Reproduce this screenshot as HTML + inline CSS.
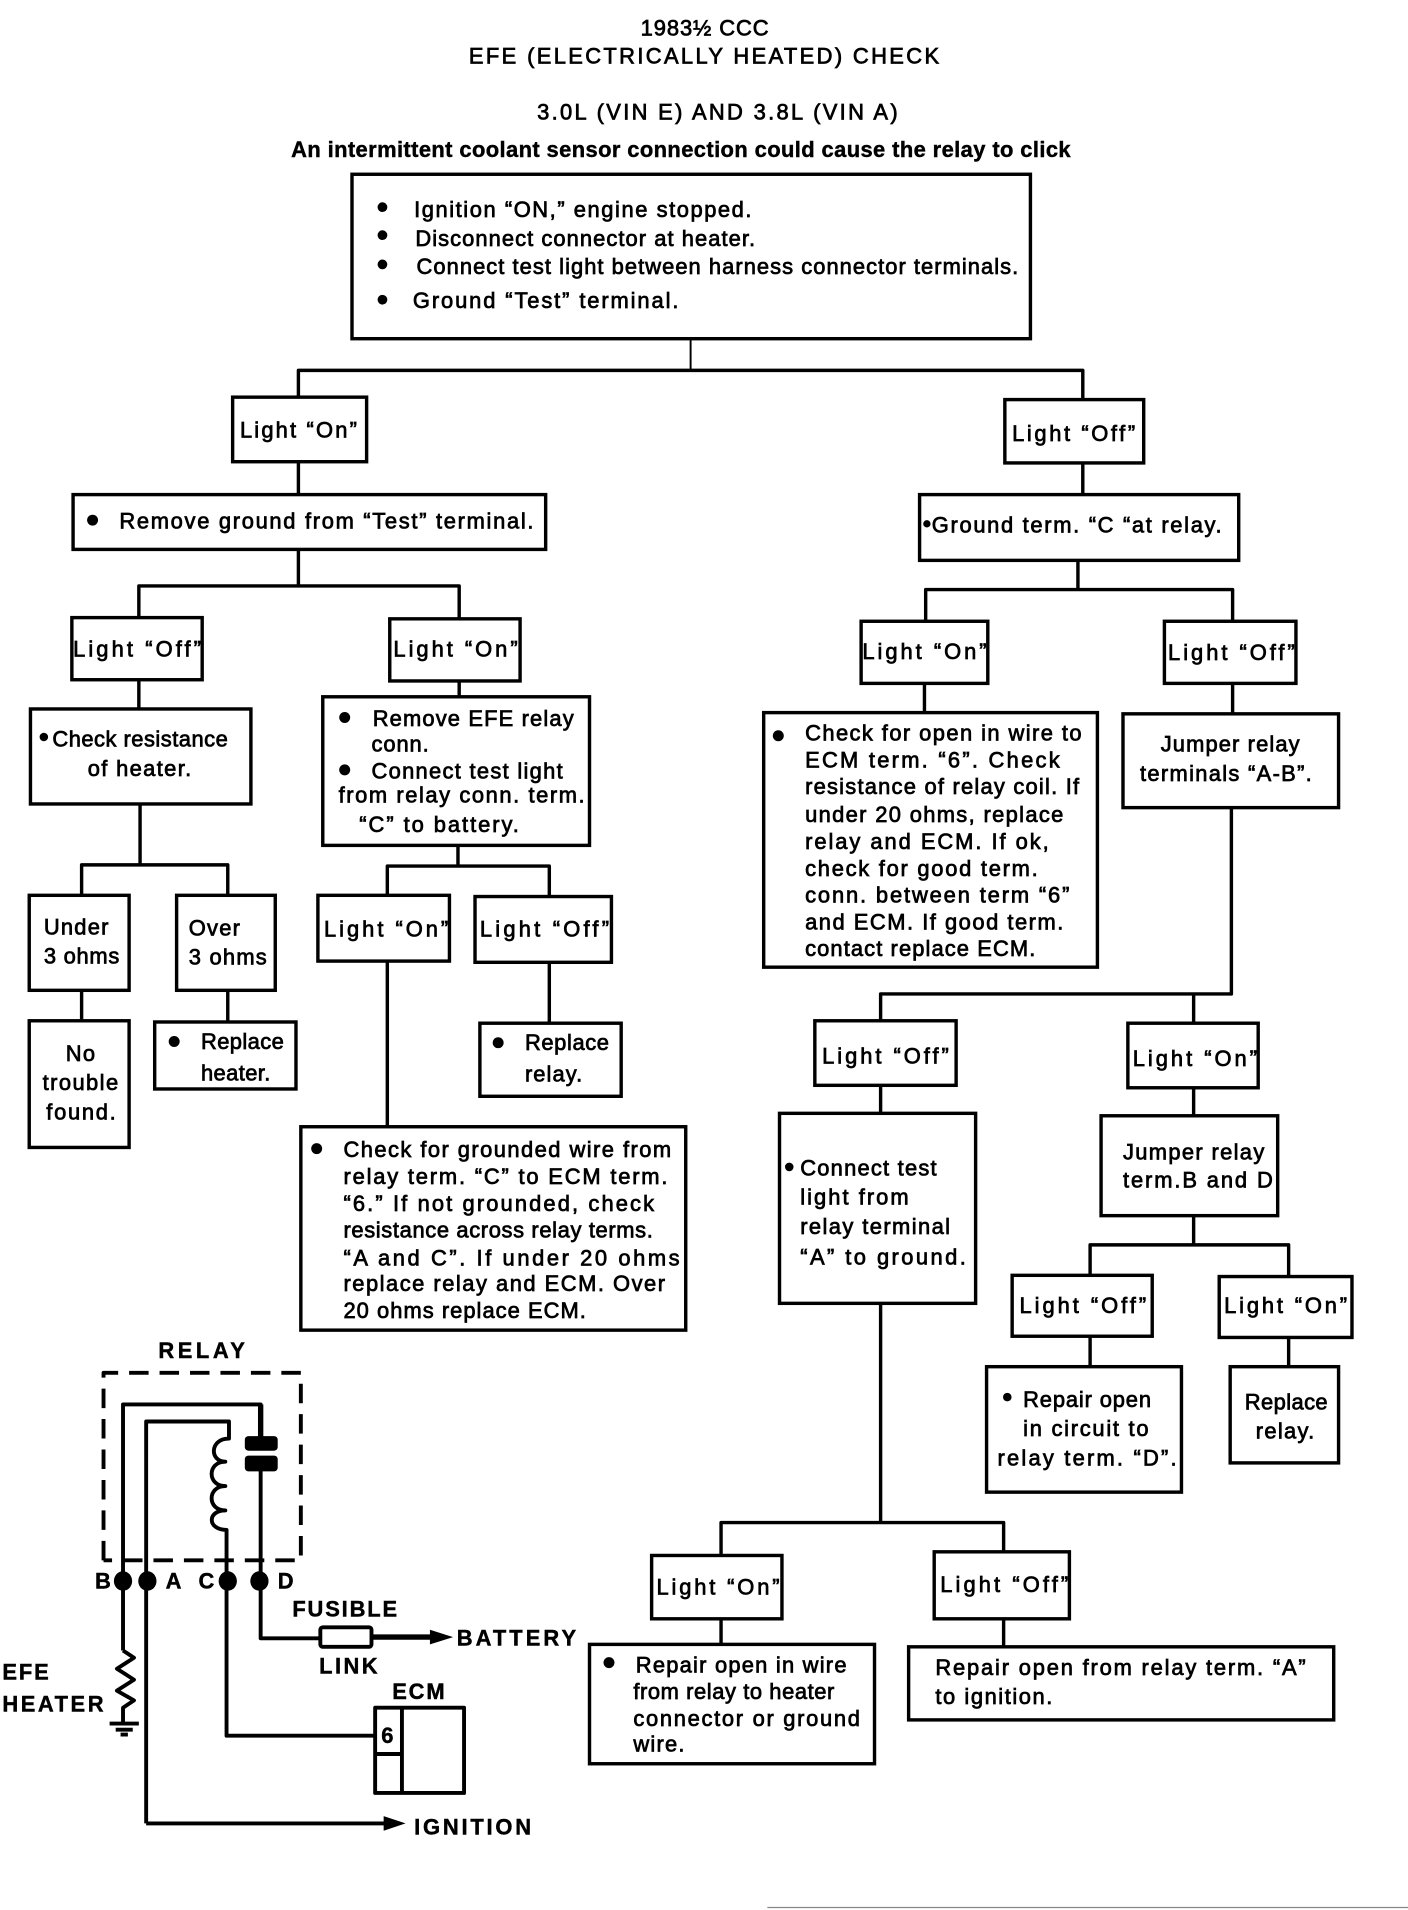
<!DOCTYPE html>
<html><head><meta charset="utf-8"><title>EFE Check</title>
<style>
html,body{margin:0;padding:0;background:#fff;width:1408px;height:1910px;overflow:hidden}
svg{display:block}
text{font-family:"Liberation Sans",sans-serif;font-size:18px;fill:#000;stroke:#000;stroke-width:.6}
.b{fill:#fff;stroke:#000;stroke-width:2.8}
.l{fill:none;stroke:#000;stroke-width:2.8;stroke-linejoin:round}
.t{stroke-width:1.6}
.s{stroke-width:3.2}
.k{stroke-width:4.4}
.h{font-weight:bold;stroke-width:.35}
</style></head><body>
<svg width="1408" height="1910" viewBox="0 0 1156 1568" xmlns="http://www.w3.org/2000/svg">
<rect width="1156" height="1568" fill="#fff"/>
<!-- connectors -->
<path class="l t" d="M567 278V304"/>
<path class="l" d="M245 326V304H889V328"/>
<path class="l" d="M245 379V406M889 380V406M245 451V481M114 507V481H377V508M885 460V484M760 510V484H1012V510"/>
<path class="l" d="M114 558V582M115 660V710M67 735V710H187V735M67 813V838M187 813V839"/>
<path class="l" d="M377 559V572M376 694V711M318 735V711H451V736M318 789V925M451 790V840"/>
<path class="l" d="M759 561V585M1012 561V586M1011 663V816H723V838M980 816V840M723 891V914M980 893V916M980 998V1021M895 1047V1022H1058V1048M895 1097V1122M1058 1098V1122"/>
<path class="l" d="M723 1070V1250M592 1277V1250H824V1274M592 1329V1350M824 1329V1352"/>
<!-- boxes -->
<rect class="b" x="289" y="143" width="557" height="135"/>
<rect class="b" x="191" y="326" width="110" height="53"/>
<rect class="b" x="825" y="328" width="114" height="52"/>
<rect class="b" x="60" y="406" width="388" height="45"/>
<rect class="b" x="755" y="406" width="262" height="54"/>
<rect class="b" x="59" y="507" width="107" height="51"/>
<rect class="b" x="320" y="508" width="107" height="51"/>
<rect class="b" x="707" y="510" width="104" height="51"/>
<rect class="b" x="956" y="510" width="108" height="51"/>
<rect class="b" x="25" y="582" width="181" height="78"/>
<rect class="b" x="24" y="735" width="82" height="78"/>
<rect class="b" x="145" y="735" width="81" height="78"/>
<rect class="b" x="24" y="838" width="82" height="104"/>
<rect class="b" x="127" y="839" width="116" height="55"/>
<rect class="b" x="265" y="572" width="219" height="122"/>
<rect class="b" x="261" y="735" width="108" height="54"/>
<rect class="b" x="390" y="736" width="112" height="54"/>
<rect class="b" x="394" y="840" width="116" height="60"/>
<rect class="b" x="247" y="925" width="316" height="167"/>
<rect class="b" x="627" y="585" width="274" height="209"/>
<rect class="b" x="922" y="586" width="177" height="77"/>
<rect class="b" x="669" y="838" width="116" height="53"/>
<rect class="b" x="926" y="840" width="107" height="53"/>
<rect class="b" x="640" y="914" width="161" height="156"/>
<rect class="b" x="904" y="916" width="145" height="82"/>
<rect class="b" x="831" y="1047" width="115" height="50"/>
<rect class="b" x="1001" y="1048" width="109" height="50"/>
<rect class="b" x="810" y="1122" width="160" height="103"/>
<rect class="b" x="1010" y="1122" width="89" height="79"/>
<rect class="b" x="535" y="1277" width="107" height="52"/>
<rect class="b" x="767" y="1274" width="111" height="55"/>
<rect class="b" x="484" y="1350" width="234" height="98"/>
<rect class="b" x="746" y="1352" width="349" height="60"/>
<!-- bullets -->
<g fill="#000">
<circle cx="314" cy="170" r="4"/><circle cx="314" cy="193" r="4"/><circle cx="314" cy="217" r="4"/><circle cx="314" cy="246" r="4"/>
<circle cx="76" cy="427" r="4.5"/><circle cx="761" cy="430" r="3"/><circle cx="36" cy="605" r="3.5"/>
<circle cx="143" cy="855" r="4.5"/><circle cx="283" cy="589" r="4.5"/><circle cx="283" cy="632" r="4.5"/>
<circle cx="409" cy="856" r="4.5"/><circle cx="260" cy="943" r="4.5"/><circle cx="639" cy="604" r="4.5"/>
<circle cx="648" cy="958" r="3.5"/><circle cx="827" cy="1147" r="3.5"/><circle cx="500" cy="1365" r="4.5"/>
</g>
<!-- titles -->
<text x="526" y="29" textLength="105">1983½ CCC</text>
<text x="385" y="52" textLength="386">EFE (ELECTRICALLY HEATED) CHECK</text>
<text x="441" y="98" textLength="296">3.0L (VIN E) AND 3.8L (VIN A)</text>
<text class="h" x="239" y="129" textLength="640">An intermittent coolant sensor connection could cause the relay to click</text>
<!-- top box -->
<text x="340" y="178" textLength="277">Ignition “ON,” engine stopped.</text>
<text x="341" y="202" textLength="279">Disconnect connector at heater.</text>
<text x="342" y="225" textLength="494">Connect test light between harness connector terminals.</text>
<text x="339" y="253" textLength="218">Ground “Test” terminal.</text>
<!-- light labels -->
<text x="197" y="359" textLength="96">Light “On”</text>
<text x="831" y="362" textLength="101">Light “Off”</text>
<text x="98" y="434" textLength="340">Remove ground from “Test” terminal.</text>
<text x="765" y="437" textLength="238">Ground term. “C “at relay.</text>
<text x="60" y="539" textLength="105">Light “Off”</text>
<text x="323" y="539" textLength="102">Light “On”</text>
<text x="708" y="541" textLength="102">Light “On”</text>
<text x="959" y="542" textLength="104">Light “Off”</text>
<text x="43" y="613" textLength="144">Check resistance</text>
<text x="72" y="637" textLength="85">of heater.</text>
<text x="36" y="767" textLength="53">Under</text>
<text x="36" y="791" textLength="62">3 ohms</text>
<text x="155" y="768" textLength="42">Over</text>
<text x="155" y="792" textLength="64">3 ohms</text>
<text x="54" y="871" textLength="24">No</text>
<text x="35" y="895" textLength="62">trouble</text>
<text x="38" y="919" textLength="57">found.</text>
<text x="165" y="861" textLength="68">Replace</text>
<text x="165" y="887" textLength="57">heater.</text>
<text x="306" y="596" textLength="165">Remove EFE relay</text>
<text x="305" y="617" textLength="47">conn.</text>
<text x="305" y="639" textLength="157">Connect test light</text>
<text x="278" y="659" textLength="202">from relay conn. term.</text>
<text x="295" y="683" textLength="131">“C”  to  battery.</text>
<text x="266" y="769" textLength="102">Light “On”</text>
<text x="394" y="769" textLength="106">Light “Off”</text>
<text x="431" y="862" textLength="69">Replace</text>
<text x="431" y="888" textLength="47">relay.</text>
<text x="282" y="950" textLength="269">Check for grounded wire from</text>
<text x="282" y="972" textLength="266">relay term. “C” to ECM term.</text>
<text x="282" y="994" textLength="255">“6.”  If not grounded, check</text>
<text x="282" y="1016" textLength="254">resistance across relay terms.</text>
<text x="282" y="1039" textLength="276">“A  and C”.  If under 20 ohms</text>
<text x="282" y="1060" textLength="264">replace relay and ECM.  Over</text>
<text x="282" y="1082" textLength="199">20 ohms replace ECM.</text>
<text x="661" y="608" textLength="227">Check for open in wire to</text>
<text x="661" y="630" textLength="209">ECM term. “6”.  Check</text>
<text x="661" y="652" textLength="225">resistance of relay coil. If</text>
<text x="661" y="675" textLength="212">under 20 ohms, replace</text>
<text x="661" y="697" textLength="200">relay and ECM.  If ok,</text>
<text x="661" y="719" textLength="191">check for good term.</text>
<text x="661" y="741" textLength="217">conn. between term “6”</text>
<text x="661" y="763" textLength="212">and ECM.  If good term.</text>
<text x="661" y="785" textLength="189">contact replace ECM.</text>
<text x="953" y="617" textLength="114">Jumper relay</text>
<text x="936" y="641" textLength="141">terminals “A-B”.</text>
<text x="675" y="873" textLength="104">Light “Off”</text>
<text x="930" y="875" textLength="102">Light “On”</text>
<text x="657" y="965" textLength="112">Connect test</text>
<text x="657" y="989" textLength="89">light from</text>
<text x="657" y="1013" textLength="123">relay terminal</text>
<text x="657" y="1038" textLength="136">“A” to ground.</text>
<text x="922" y="952" textLength="116">Jumper relay</text>
<text x="922" y="975" textLength="123">term.B and D</text>
<text x="837" y="1078" textLength="104">Light “Off”</text>
<text x="1005" y="1078" textLength="101">Light “On”</text>
<text x="840" y="1155" textLength="105">Repair open</text>
<text x="840" y="1179" textLength="103">in circuit to</text>
<text x="819" y="1203" textLength="147">relay term. “D”.</text>
<text x="1022" y="1157" textLength="68">Replace</text>
<text x="1031" y="1181" textLength="48">relay.</text>
<text x="539" y="1309" textLength="101">Light “On”</text>
<text x="772" y="1307" textLength="105">Light “Off”</text>
<text x="522" y="1373" textLength="173">Repair open in wire</text>
<text x="520" y="1395" textLength="165">from relay to heater</text>
<text x="520" y="1417" textLength="186">connector or ground</text>
<text x="520" y="1438" textLength="42">wire.</text>
<text x="768" y="1375" textLength="304">Repair open from relay term. “A”</text>
<text x="768" y="1399" textLength="96">to ignition.</text>
<!-- relay schematic -->
<path class="l s" d="M85 1281V1127H247V1281H85" stroke-dasharray="16 9"/>
<path class="l s" d="M101 1355V1153H214V1182M214 1205V1345H263"/>
<path class="l k" d="M214 1153V1182M305 1344H358"/>
<path class="l s" d="M120 1497V1167H188V1181C172 1181 172 1200 185 1200C170 1200 170 1220 185 1220C170 1220 170 1240 185 1240C170 1240 170 1256 186 1256V1425H308"/>
<path class="l s" d="M120 1497H322"/>
<rect x="201" y="1179" width="27" height="12" rx="3" fill="#000"/>
<rect x="201" y="1195" width="27" height="13" rx="3" fill="#000"/>
<g fill="#000">
<ellipse cx="101" cy="1298" rx="7.5" ry="8"/><ellipse cx="121" cy="1298" rx="7.5" ry="8"/><ellipse cx="187" cy="1298" rx="7.5" ry="8"/><ellipse cx="213" cy="1298" rx="7.5" ry="8"/>
<path d="M353 1338L372 1344L353 1350Z"/><path d="M315 1491L333 1497L315 1503Z"/>
</g>
<rect class="l s" x="263" y="1336" width="42" height="16" rx="2" fill="#fff"/>
<path class="l s" d="M101 1355L110 1361L96 1370L110 1379L96 1388L110 1396L101 1402V1415M90 1415H114"/>
<path class="l s" d="M95 1420H109M99 1424H105"/>
<rect class="l s" x="308" y="1402" width="73" height="70"/>
<path class="l s" d="M330 1402V1472M308 1440H330"/>
<text class="h" x="313" y="1431" style="font-size:18px">6</text>
<text class="h" x="130" y="1115" textLength="71">RELAY</text>
<text class="h" x="78" y="1304">B</text>
<text class="h" x="136" y="1304">A</text>
<text class="h" x="163" y="1304">C</text>
<text class="h" x="228" y="1304">D</text>
<text class="h" x="240" y="1327" textLength="86">FUSIBLE</text>
<text class="h" x="375" y="1351" textLength="98">BATTERY</text>
<text class="h" x="262" y="1374" textLength="48">LINK</text>
<text class="h" x="322" y="1395" textLength="43">ECM</text>
<text class="h" x="2" y="1379" textLength="38">EFE</text>
<text class="h" x="2" y="1405" textLength="83">HEATER</text>
<text class="h" x="340" y="1506" textLength="96">IGNITION</text>
<path d="M630 1566H1156" stroke="#888" stroke-width="1"/>
</svg>
</body></html>
